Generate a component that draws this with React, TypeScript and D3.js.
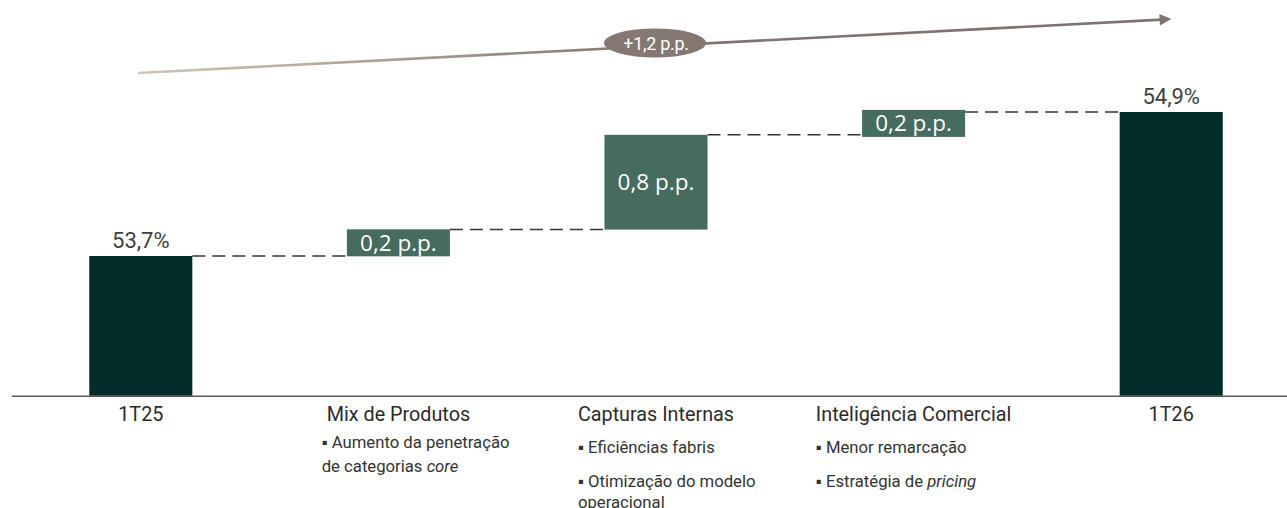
import React, { useEffect, useRef } from "react";
import * as d3 from "d3";

// ---------- data ----------
const categories = ["1T25", "Mix de Produtos", "Capturas Internas", "Inteligência Comercial", "1T26"];
const kinds = ["total", "delta", "delta", "delta", "total"];
const values = [53.7, 0.22, 0.79, 0.19, 54.9];
const valueLabels = ["53,7%", "0,2 p.p.", "0,8 p.p.", "0,2 p.p.", "54,9%"];
const totalChangeLabel = "+1,2 p.p.";

type Seg = { t: string; i?: boolean };
type Line = { segs: Seg[]; dy: number };
const bulletLines: Line[][] = [
  [],
  [
    { segs: [{ t: "▪ Aumento da penetração" }], dy: 27 },
    { segs: [{ t: "de categorias " }, { t: "core", i: true }], dy: 51 },
  ],
  [
    { segs: [{ t: "▪ Eficiências fabris" }], dy: 32 },
    { segs: [{ t: "▪ Otimização do modelo" }], dy: 66 },
    { segs: [{ t: "operacional" }], dy: 87 },
  ],
  [
    { segs: [{ t: "▪ Menor remarcação" }], dy: 32 },
    { segs: [{ t: "▪ Estratégia de " }, { t: "pricing", i: true }], dy: 66 },
  ],
  [],
];

const W = 1287;
const H = 508;

export default function App() {
  const ref = useRef<SVGSVGElement | null>(null);

  useEffect(() => {
    const svg = d3.select(ref.current);
    svg.selectAll("*").remove();

    const x = d3.scaleBand<string>().domain(categories).range([12, 1300]).paddingInner(0.6).paddingOuter(0.3);
    const y = d3.scaleLinear().domain([52.5, 55]).range([400, 100]);
    const axisY = y(52.535);

    // cumulative levels
    const bars: { cat: string; kind: string; y0: number; y1: number; label: string }[] = [];
    let level = 0;
    categories.forEach((c, i) => {
      if (kinds[i] === "total") {
        level = values[i];
        bars.push({ cat: c, kind: "total", y0: 52.535, y1: values[i], label: valueLabels[i] });
      } else {
        bars.push({ cat: c, kind: "delta", y0: level, y1: level + values[i], label: valueLabels[i] });
        level += values[i];
      }
    });

    const defs = svg.append("defs");
    const grad = defs
      .append("linearGradient")
      .attr("id", "arrowGrad")
      .attr("gradientUnits", "userSpaceOnUse")
      .attr("x1", 138)
      .attr("x2", 1175)
      .attr("y1", 0)
      .attr("y2", 0);
    grad.append("stop").attr("offset", 0).attr("stop-color", "#cfc9b3");
    grad.append("stop").attr("offset", 0.5).attr("stop-color", "#7e7370");
    grad.append("stop").attr("offset", 1).attr("stop-color", "#7e7370");
    defs
      .append("marker")
      .attr("id", "arrowHead")
      .attr("viewBox", "0 0 10 10")
      .attr("refX", 2)
      .attr("refY", 5)
      .attr("markerWidth", 5.5)
      .attr("markerHeight", 4.5)
      .attr("markerUnits", "strokeWidth")
      .attr("orient", "auto")
      .append("path")
      .attr("d", "M0,0L10,5L0,10z")
      .attr("fill", "#7e7370");

    // top arrow
    svg
      .append("line")
      .attr("x1", 138)
      .attr("y1", 73)
      .attr("x2", 1162)
      .attr("y2", 19.6)
      .attr("stroke", "url(#arrowGrad)")
      .attr("stroke-width", 2.6)
      .attr("marker-end", "url(#arrowHead)");
    svg.append("ellipse").attr("cx", 655).attr("cy", 43).attr("rx", 51).attr("ry", 14.5).attr("fill", "#857873");
    svg
      .append("text")
      .attr("x", 656)
      .attr("y", 49.5)
      .attr("text-anchor", "middle")
      .attr("font-family", "Roboto")
      .attr("font-size", 18)
      .attr("letter-spacing", -0.3)
      .attr("fill", "#ffffff")
      .text(totalChangeLabel);

    // connectors
    for (let i = 0; i < bars.length - 1; i++) {
      const lvl = bars[i].y1;
      svg
        .append("line")
        .attr("x1", (x(bars[i].cat) as number) + x.bandwidth())
        .attr("x2", x(bars[i + 1].cat) as number)
        .attr("y1", y(lvl))
        .attr("y2", y(lvl))
        .attr("stroke", "#333333")
        .attr("stroke-width", 1.5)
        .attr("stroke-dasharray", "13,7");
    }

    // bars
    bars.forEach((b) => {
      const bx = x(b.cat) as number;
      if (b.kind === "total") {
        svg
          .append("rect")
          .attr("x", bx)
          .attr("y", y(b.y1))
          .attr("width", x.bandwidth())
          .attr("height", axisY - y(b.y1))
          .attr("fill", "#032d2b");
        svg
          .append("text")
          .attr("x", bx + x.bandwidth() / 2)
          .attr("y", y(b.y1) - 8)
          .attr("text-anchor", "middle")
          .attr("font-family", "Roboto")
          .attr("font-size", 22)
          .attr("fill", "#404040")
          .text(b.label);
      } else {
        const top = y(b.y1);
        const bot = y(b.y0);
        const mid = (top + bot) / 2;
        const h = Math.max(bot - top, 27);
        svg
          .append("rect")
          .attr("x", bx)
          .attr("y", mid - h / 2)
          .attr("width", x.bandwidth())
          .attr("height", h)
          .attr("fill", "#466b5f");
        svg
          .append("text")
          .attr("x", bx + x.bandwidth() / 2)
          .attr("y", mid)
          .attr("dy", "0.35em")
          .attr("text-anchor", "middle")
          .attr("font-family", "Open Sans")
          .attr("font-size", 22.5)
          .attr("fill", "#ffffff")
          .text(b.label);
      }
    });

    // axis line
    svg
      .append("line")
      .attr("x1", 12)
      .attr("x2", W)
      .attr("y1", axisY + 0.5)
      .attr("y2", axisY + 0.5)
      .attr("stroke", "#595959")
      .attr("stroke-width", 1.6);

    // category labels and bullets
    categories.forEach((c, i) => {
      const cx = (x(c) as number) + x.bandwidth() / 2;
      const lab = svg
        .append("text")
        .attr("x", cx)
        .attr("y", 421)
        .attr("text-anchor", "middle")
        .attr("font-family", "Roboto")
        .attr("font-size", 19.8)
        .attr("fill", "#2b2b2b")
        .text(c);
      const node = lab.node() as SVGTextElement;
      const w = node.getComputedTextLength();
      const left = cx - w / 2;
      bulletLines[i].forEach((ln) => {
        const t = svg
          .append("text")
          .attr("x", left - (i === 1 ? 5 : 0))
          .attr("y", 421 + ln.dy)
          .attr("font-family", "Roboto")
          .attr("font-size", 16.7)
          .attr("fill", "#333333");
        ln.segs.forEach((s) => {
          t.append("tspan").attr("font-style", s.i ? "italic" : "normal").text(s.t);
        });
      });
    });
  }, []);

  return (
    <svg
      ref={ref}
      width={W}
      height={H}
      style={{ position: "absolute", left: 0, top: 0, background: "#ffffff" }}
    />
  );
}
